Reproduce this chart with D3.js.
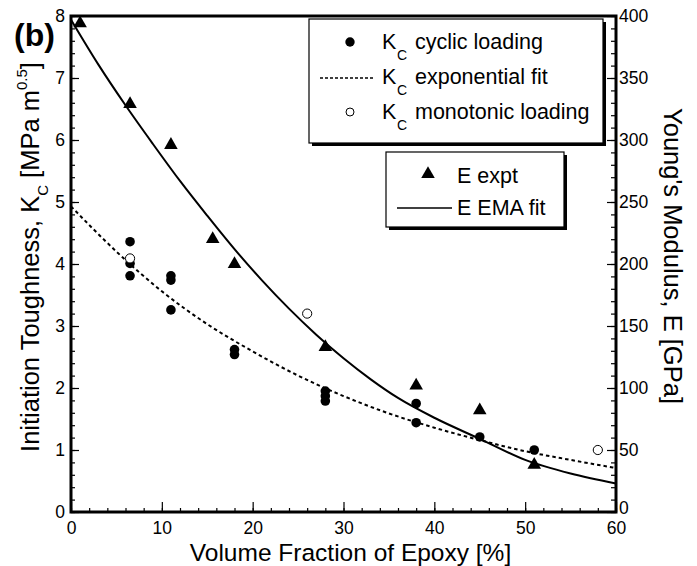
<!DOCTYPE html>
<html>
<head>
<meta charset="utf-8">
<script src="https://cdn.jsdelivr.net/npm/d3@7"></script>
<style>
  body { margin: 0; background: #fff; }
  svg text { font-family: Arial, "Liberation Sans", Helvetica, sans-serif; fill: #000; }
</style>
</head>
<body>
<svg id="chart" width="697" height="566"></svg>
<script>
var margin = { left: 71, right: 81, top: 16, bottom: 54 };
var width = 697 - margin.left - margin.right,
    height = 566 - margin.top - margin.bottom;

// Kc cyclic loading (filled circles, left axis)
var xCyclic = [6.5, 6.5, 6.5, 11, 11, 11, 18, 18, 28, 28, 28, 38, 38, 45, 51];
var kCyclic = [4.36, 4.01, 3.81, 3.81, 3.74, 3.26, 2.62, 2.54, 1.95, 1.87, 1.79, 1.75, 1.44, 1.21, 1.0];

// Kc monotonic loading (open circles, left axis)
var xMono = [6.5, 26, 58];
var kMono = [4.09, 3.2, 1.0];

// Kc exponential fit (dashed)
var xFitK = [0, 5, 10, 15, 20, 25, 30, 35, 40, 45, 50, 55, 60];
var kFit = [4.93, 4.2, 3.56, 3.03, 2.59, 2.2, 1.87, 1.59, 1.36, 1.16, 0.98, 0.84, 0.71];

// E expt (triangles, right axis, GPa)
var xExpt = [1, 6.5, 11, 15.6, 18, 28, 38, 45, 51];
var eExpt = [394, 329, 296, 220, 200, 133, 102, 82, 38];

// E EMA fit (solid)
var xFitE = [0, 3, 6, 9, 12, 15, 18, 21, 24, 27, 30, 33, 36, 40, 45, 50, 55, 60];
var eFit = [397, 361, 328, 297, 267, 239, 212, 187, 164, 143, 124, 107, 92, 76, 59, 42, 31, 23];

var xTicks = [0, 10, 20, 30, 40, 50, 60];
var yLeftTicks = [0, 1, 2, 3, 4, 5, 6, 7, 8];
var yRightTicks = [0, 50, 100, 150, 200, 250, 300, 350, 400];

var svg = d3.select("#chart");
var g = svg.append("g").attr("transform", "translate(" + margin.left + "," + margin.top + ")");

var x = d3.scaleLinear().domain([0, 60]).range([0, width]);
var yL = d3.scaleLinear().domain([0, 8]).range([height, 0]);
var yR = d3.scaleLinear().domain([0, 400]).range([height, 0]);

// minor ticks
g.append("g").attr("class", "minor")
    .call(d3.axisLeft(yL).tickValues(d3.range(0, 8.01, 0.2)).tickSize(-4).tickFormat(""));
g.append("g").attr("class", "minor").attr("transform", "translate(" + width + ",0)")
    .call(d3.axisRight(yR).tickValues(d3.range(0, 401, 10)).tickSize(-5).tickFormat(""));
g.append("g").attr("class", "minor").attr("transform", "translate(0," + height + ")")
    .call(d3.axisBottom(x).tickValues(d3.range(0, 61, 2)).tickSize(-4).tickFormat(""));

// major ticks + labels
g.append("g").attr("class", "major")
    .call(d3.axisLeft(yL).tickValues(yLeftTicks).tickSize(-8).tickPadding(6).tickFormat(d3.format("d")));
var rAxis = g.append("g").attr("class", "major").attr("transform", "translate(" + width + ",0)")
    .call(d3.axisRight(yR).tickValues(yRightTicks).tickSize(-9).tickPadding(3).tickFormat(d3.format("d")));
g.append("g").attr("class", "major").attr("transform", "translate(0," + height + ")")
    .call(d3.axisBottom(x).tickValues(xTicks).tickSize(-10).tickPadding(10).tickFormat(d3.format("d")));

g.selectAll(".domain").remove();
g.selectAll(".tick line").attr("stroke", "#000").attr("stroke-width", 1.2);
g.selectAll(".major text").style("font-size", "17.5px").style("font-family", "Arial, 'Liberation Sans', sans-serif");
// right-hand "0" sits just above the "60" below it
rAxis.selectAll(".tick text").filter(function (d) { return d === 0; }).attr("dy", "0.1em");

// frame
g.append("rect").attr("width", width).attr("height", height)
    .attr("fill", "none").attr("stroke", "#000").attr("stroke-width", 3);

// fit lines
var lineK = d3.line().x(function (d) { return x(d[0]); }).y(function (d) { return yL(d[1]); }).curve(d3.curveMonotoneX);
var lineE = d3.line().x(function (d) { return x(d[0]); }).y(function (d) { return yR(d[1]); }).curve(d3.curveMonotoneX);

g.append("path").datum(d3.zip(xFitK, kFit))
    .attr("d", lineK).attr("fill", "none").attr("stroke", "#000")
    .attr("stroke-width", 2).attr("stroke-dasharray", "3.5,3");

g.append("path").datum(d3.zip(xFitE, eFit))
    .attr("d", lineE).attr("fill", "none").attr("stroke", "#000").attr("stroke-width", 2);

// markers
g.selectAll(".cyc").data(d3.zip(xCyclic, kCyclic)).enter().append("circle")
    .attr("cx", function (d) { return x(d[0]); }).attr("cy", function (d) { return yL(d[1]); })
    .attr("r", 4.8).attr("fill", "#000");

g.selectAll(".mono").data(d3.zip(xMono, kMono)).enter().append("circle")
    .attr("cx", function (d) { return x(d[0]); }).attr("cy", function (d) { return yL(d[1]); })
    .attr("r", 4.6).attr("fill", "#fff").attr("stroke", "#000").attr("stroke-width", 1);

var tri = d3.symbol().type(d3.symbolTriangle).size(80);
g.selectAll(".expt").data(d3.zip(xExpt, eExpt)).enter().append("path")
    .attr("d", tri)
    .attr("transform", function (d) { return "translate(" + x(d[0]) + "," + yR(d[1]) + ")"; })
    .attr("fill", "#000");

// axis titles
svg.append("text").attr("x", margin.left + width / 2 + 7).attr("y", 561)
    .attr("text-anchor", "middle").style("font-size", "24.5px")
    .text("Volume Fraction of Epoxy [%]");

var lt = svg.append("text").attr("transform", "translate(39,257) rotate(-90)")
    .attr("text-anchor", "middle").style("font-size", "25.5px");
lt.append("tspan").text("Initiation Toughness, K");
lt.append("tspan").attr("dy", 9).style("font-size", "15px").text("C");
lt.append("tspan").attr("dy", -9).text(" [MPa m");
lt.append("tspan").attr("dy", -12).style("font-size", "15px").text("0.5");
lt.append("tspan").attr("dy", 12).text("]");

svg.append("text").attr("transform", "translate(664,256) rotate(90)")
    .attr("text-anchor", "middle").style("font-size", "25.5px")
    .text("Young's Modulus, E [GPa]");

svg.append("text").attr("x", 14).attr("y", 46)
    .style("font-size", "32px").style("font-weight", "bold").text("(b)");

// legend boxes
function box(bx, by, bw, bh) {
    svg.append("rect").attr("x", bx + 3).attr("y", by + 3).attr("width", bw).attr("height", bh).attr("fill", "#000");
    svg.append("rect").attr("x", bx).attr("y", by).attr("width", bw).attr("height", bh)
        .attr("fill", "#fff").attr("stroke", "#000").attr("stroke-width", 1.2);
}

box(309, 19, 294, 124);
var kLabels = ["cyclic loading", "exponential fit", "monotonic loading"];
var rowY = [42, 77, 112];
kLabels.forEach(function (lab, i) {
    var t = svg.append("text").attr("y", rowY[i] + 7).style("font-size", "21.5px");
    t.append("tspan").attr("x", 382).text("K");
    t.append("tspan").attr("x", 397).attr("dy", 11).style("font-size", "14px").text("C");
    t.append("tspan").attr("x", 415).attr("dy", -11).text(lab);
});
svg.append("circle").attr("cx", 350).attr("cy", rowY[0]).attr("r", 4.7).attr("fill", "#000");
svg.append("line").attr("x1", 320).attr("x2", 375).attr("y1", rowY[1] + 1).attr("y2", rowY[1] + 1)
    .attr("stroke", "#000").attr("stroke-width", 1.5).attr("stroke-dasharray", "3,2");
svg.append("circle").attr("cx", 350).attr("cy", rowY[2]).attr("r", 4).attr("fill", "#fff")
    .attr("stroke", "#000").attr("stroke-width", 1);

box(386, 152, 178, 75);
svg.append("path").attr("d", tri).attr("transform", "translate(428,174)").attr("fill", "#000");
svg.append("text").attr("x", 457).attr("y", 183).style("font-size", "21.5px").text("E expt");
svg.append("line").attr("x1", 397).attr("x2", 452).attr("y1", 208).attr("y2", 208)
    .attr("stroke", "#000").attr("stroke-width", 1.5);
svg.append("text").attr("x", 457).attr("y", 215).style("font-size", "21.5px").text("E EMA fit");
</script>
</body>
</html>
